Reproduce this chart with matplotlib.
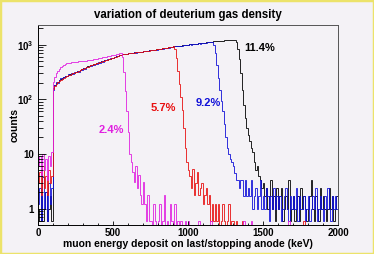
import numpy as np
import matplotlib
matplotlib.use("Agg")
import matplotlib.pyplot as plt
from matplotlib.patches import Rectangle
from matplotlib.ticker import FixedLocator, MultipleLocator, LogLocator, NullFormatter

# histogram bins: 10 keV wide, 0..2000 keV
bin_edges = np.arange(0, 2010, 10)

# counts per bin (rows of 100 keV)
counts_24 = [
    6, 9, 4, 10, 5, 8, 3.4, 9, 6, 11,
    210, 260, 300, 335, 365, 390, 410, 428, 442, 455,
    462, 468, 474, 478, 482, 486, 489, 492, 495, 498,
    500, 505, 510, 515, 520, 526, 532, 538, 545, 552,
    560, 568, 576, 584, 592, 600, 610, 620, 630, 640,
    650, 660, 670, 680, 690, 695, 600, 320, 140, 60,
    25, 10, 7, 4.6, 3.1, 6, 2.4, 4.2, 1.8, 1.2,
    3.1, 1.2, 0.6, 1.8, 0.6, 0.6, 0, 1.2, 0.6, 0,
    0.6, 1.2, 0, 0.6, 1.8, 0, 0.6, 0, 1.2, 0.6,
    0, 1.2, 0, 0.6, 0, 0.6, 0, 0, 0.6, 0,
    0.6, 0, 0, 0, 0, 0, 0, 0.6, 0, 0,
    0, 0, 0, 0, 0, 0.6, 0, 0, 0, 0,
    0, 0, 0, 0, 0, 0, 0, 0, 0, 0,
    0, 0, 0, 0, 0, 0, 0, 0.6, 0, 0,
    0, 0, 0.6, 0, 0, 0, 0, 0, 0, 0,
    0, 0, 0, 0, 0, 0, 0, 0, 0, 0,
    0, 0, 0, 0, 0, 0, 0, 0.6, 0, 0,
    0, 0, 0, 0, 0, 0, 0, 0, 0, 0,
    0, 0, 0, 0, 0, 0, 0, 0, 0, 0,
    0, 0, 0, 0, 0, 0, 0, 0, 0, 0,
]

counts_57 = [
    3.0, 4.6, 1.8, 6.0, 2.4, 4.0, 1.8, 5.0, 3.0, 4.0,
    155, 178, 192, 208, 220, 230, 240, 250, 260, 268,
    276, 283, 292, 298, 307, 315, 322, 333, 343, 355,
    366, 378, 388, 398, 408, 418, 428, 438, 448, 458,
    468, 478, 490, 500, 510, 522, 532, 544, 555, 566,
    578, 592, 607, 622, 640, 652, 662, 670, 678, 686,
    693, 699, 705, 711, 717, 723, 729, 735, 741, 747,
    753, 760, 767, 774, 781, 788, 795, 802, 809, 816,
    825, 834, 843, 852, 861, 870, 880, 890, 900, 915,
    940, 820, 560, 330, 190, 110, 65, 30, 13, 7,
    5.0, 4.0, 2.4, 5.3, 1.8, 3.0, 4.6, 1.8, 2.4, 3.0,
    1.2, 1.8, 2.4, 1.2, 1.8, 0.6, 1.2, 0.6, 1.2, 0.6,
    1.2, 0, 0.6, 1.2, 0.6, 0, 0.6, 1.2, 0, 0.6,
    0.6, 0, 0.6, 0, 0, 0, 0.6, 0, 0, 0,
    0, 0, 0, 0, 0, 0, 0, 0, 0, 0,
    0, 0, 0, 0, 0, 0, 0, 0, 0, 0,
    0, 0, 0, 0, 0, 0, 0, 0, 0, 0,
    0, 0, 0, 0, 0, 0, 0, 0.6, 0, 0,
    0, 0, 0, 0, 0, 0, 0, 0, 0, 0,
    0, 0, 0, 0, 0, 0, 0, 0, 0, 0,
]

counts_92 = [
    1.2, 2.4, 0.6, 3.8, 1.0, 2.0, 0.6, 3.0, 1.2, 2.4,
    150, 185, 205, 200, 228, 245, 236, 258, 270, 262,
    285, 278, 300, 292, 318, 310, 330, 322, 350, 345,
    372, 365, 395, 385, 412, 405, 432, 425, 452, 448,
    472, 470, 495, 490, 515, 518, 538, 540, 560, 562,
    582, 590, 612, 618, 642, 650, 665, 668, 682, 684,
    696, 698, 708, 706, 720, 718, 732, 730, 744, 742,
    756, 754, 770, 768, 784, 782, 798, 796, 812, 810,
    830, 828, 848, 846, 866, 864, 886, 884, 905, 903,
    925, 935, 945, 940, 955, 965, 960, 975, 985, 980,
    1000, 1010, 1005, 1020, 1035, 1030, 1045, 1055, 1050, 1065,
    1075, 1085, 1080, 1100, 1110, 1120, 1140, 1000, 700, 420,
    250, 150, 95, 60, 35, 20, 13, 10, 8, 7,
    6.0, 4.5, 3.4, 3.4, 2.4, 3.4, 3.4, 1.7, 3.4, 1.7,
    2.4, 1.7, 3.4, 1.0, 1.7, 2.4, 1.0, 1.7, 3.4, 1.0,
    1.7, 1.0, 2.4, 1.7, 0.6, 1.7, 1.0, 2.4, 1.0, 1.7,
    1.0, 1.7, 0.6, 1.0, 1.7, 2.4, 1.0, 0.6, 1.7, 1.0,
    1.7, 1.0, 2.4, 0.6, 1.7, 1.0, 1.0, 1.7, 0.6, 1.0,
    1.7, 0.6, 1.0, 1.7, 1.0, 2.4, 0.6, 1.0, 1.7, 1.0,
    0.6, 1.7, 1.0, 2.4, 1.0, 0.6, 1.7, 1.0, 1.7, 1.0,
]

counts_114 = [
    1.0, 0.6, 1.7, 0.6, 1.0, 2.0, 0.6, 1.0, 1.7, 0.6,
    158, 180, 196, 210, 222, 233, 242, 252, 262, 270,
    277, 285, 293, 300, 308, 316, 325, 335, 345, 357,
    368, 380, 390, 400, 410, 420, 430, 440, 450, 460,
    470, 480, 492, 503, 513, 524, 535, 546, 557, 568,
    580, 595, 610, 625, 645, 655, 665, 672, 680, 688,
    695, 701, 707, 713, 719, 725, 731, 737, 743, 749,
    755, 762, 769, 776, 783, 790, 797, 804, 811, 818,
    827, 836, 845, 854, 863, 872, 882, 892, 902, 915,
    930, 936, 942, 948, 955, 961, 967, 973, 980, 990,
    1000, 1008, 1016, 1024, 1032, 1040, 1048, 1056, 1064, 1072,
    1080, 1090, 1100, 1110, 1120, 1130, 1140, 1150, 1160, 1165,
    1170, 1178, 1185, 1190, 1196, 1202, 1208, 1214, 1220, 1225,
    1228, 1230, 1100, 850, 550, 300, 150, 80, 45, 30,
    22, 17, 13, 11, 7, 5, 6, 4, 3.4, 2.4,
    3.0, 1.7, 2.4, 1.0, 1.7, 3.4, 1.0, 1.7, 0.6, 2.4,
    1.0, 1.7, 2.4, 0.6, 1.0, 1.7, 1.0, 3.4, 0.6, 1.0,
    1.7, 0.6, 1.0, 1.7, 0.6, 2.4, 1.0, 1.7, 1.0, 0.6,
    1.0, 1.7, 3.4, 1.0, 0.6, 1.7, 1.0, 0.6, 2.4, 1.0,
    1.7, 1.0, 0.6, 1.0, 2.4, 1.0, 1.7, 0.6, 1.0, 1.7,
]

labels = ["11.4%", "9.2%", "5.7%", "2.4%"]
label_pos = [(1475, 860), (1133, 84), (833, 68), (487, 28)]
colors = ["#000000", "#1010d8", "#e81010", "#e020e0"]
series = [counts_114, counts_92, counts_57, counts_24]

plt.rcParams.update({
    "font.family": "Liberation Sans",
    "font.weight": "bold",
    "mathtext.fontset": "custom",
    "mathtext.bf": "Liberation Sans:bold",
    "mathtext.rm": "Liberation Sans:bold",
})

BG = "#f4f2f6"
fig = plt.figure(figsize=(3.74, 2.54), dpi=100, facecolor=BG)
ax = fig.add_axes([0.1016, 0.114, 0.802, 0.788])
ax.set_facecolor(BG)

for counts, col in zip(series, colors):
    c = np.asarray(counts, dtype=float)
    c = np.where(c > 0, c, 0.05)  # empty bins drop to the floor
    ax.stairs(c, bin_edges, color=col, lw=0.6, baseline=None)

for (x, y), txt, col in zip(label_pos, labels, colors):
    ax.text(x, y, txt, color=col, fontsize=8, fontweight="bold",
            ha="center", va="center")

ax.set_yscale("log")
ax.set_xlim(0, 2000)
ax.set_ylim(0.5, 2300)

ax.yaxis.set_major_locator(FixedLocator([1, 10, 100, 1000]))
ax.set_yticklabels(["1", "10", r"$\mathbf{10^{2}}$", r"$\mathbf{10^{3}}$"])
ax.yaxis.set_minor_locator(LogLocator(base=10, subs=np.arange(2, 10)))
ax.yaxis.set_minor_formatter(NullFormatter())
ax.xaxis.set_major_locator(MultipleLocator(500))
ax.xaxis.set_minor_locator(MultipleLocator(100))

ax.tick_params(axis="both", which="both", direction="in", labelsize=7,
               top=False, right=False, width=0.6)
ax.tick_params(axis="y", which="major", length=6, pad=3)
ax.tick_params(axis="y", which="minor", length=3.5)
ax.tick_params(axis="x", which="major", length=3, pad=2)
ax.tick_params(axis="x", which="minor", length=1.8)

for side in ["top", "right"]:
    ax.spines[side].set_color("#555555")
for sp in ax.spines.values():
    sp.set_linewidth(0.7)

ax.set_xlabel("muon energy deposit on last/stopping anode (keV)",
              fontsize=7.5, fontweight="bold", labelpad=1)
ax.set_ylabel("counts", fontsize=7.5, fontweight="bold")
ax.yaxis.set_label_coords(-0.062, 0.5)
fig.text(0.502, 0.94, "variation of deuterium gas density",
         ha="center", va="center", fontsize=8.3, fontweight="bold")

fig.patches.append(Rectangle((0, 0), 1, 1, transform=fig.transFigure,
                             fill=False, edgecolor="#ece36a", lw=2.5))

fig.savefig("out.png", dpi=100, facecolor=BG)
